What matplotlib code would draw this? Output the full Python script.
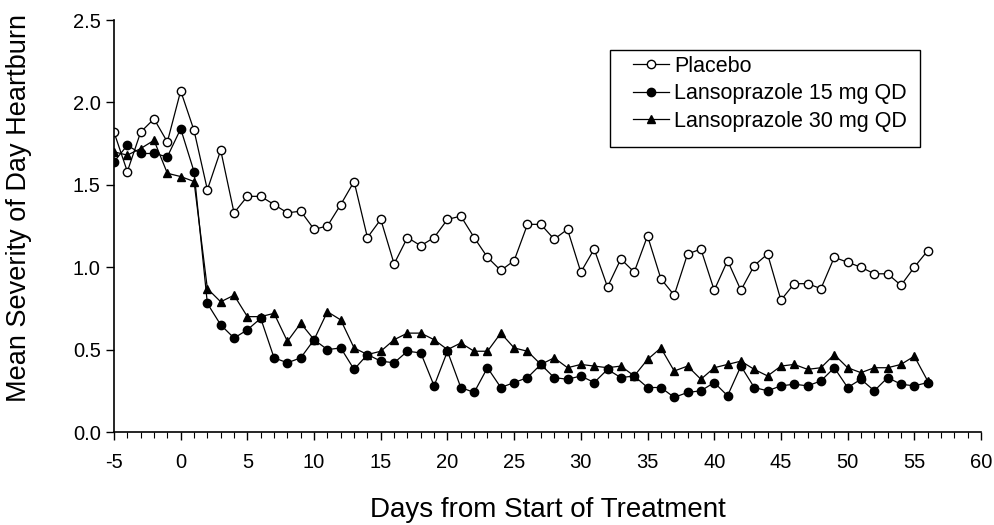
import numpy as np
import matplotlib
matplotlib.use('Agg')
import matplotlib.pyplot as plt
from matplotlib.patches import Rectangle
from matplotlib.ticker import MultipleLocator

plt.rcParams['font.family'] = ['Liberation Sans', 'DejaVu Sans']
plt.rcParams['axes.unicode_minus'] = False

# Days -5 .. 56, one mean per day
days = np.arange(-5, 57)

placebo = [1.82, 1.58, 1.82, 1.90, 1.76, 2.07, 1.83, 1.47, 1.71, 1.33,
           1.43, 1.43, 1.38, 1.33, 1.34, 1.23, 1.25, 1.38, 1.52, 1.18,
           1.29, 1.02, 1.18, 1.13, 1.18, 1.29, 1.31, 1.18, 1.06, 0.98,
           1.04, 1.26, 1.26, 1.17, 1.23, 0.97, 1.11, 0.88, 1.05, 0.97,
           1.19, 0.93, 0.83, 1.08, 1.11, 0.86, 1.04, 0.86, 1.01, 1.08,
           0.80, 0.90, 0.90, 0.87, 1.06, 1.03, 1.00, 0.96, 0.96, 0.89,
           1.00, 1.10]

lanso_15 = [1.64, 1.74, 1.69, 1.69, 1.67, 1.84, 1.58, 0.78, 0.65, 0.57,
            0.62, 0.69, 0.45, 0.42, 0.45, 0.56, 0.50, 0.51, 0.38, 0.47,
            0.43, 0.42, 0.49, 0.48, 0.28, 0.49, 0.27, 0.24, 0.39, 0.27,
            0.30, 0.33, 0.41, 0.33, 0.32, 0.34, 0.30, 0.38, 0.33, 0.34,
            0.27, 0.27, 0.21, 0.24, 0.25, 0.30, 0.22, 0.40, 0.27, 0.25,
            0.28, 0.29, 0.28, 0.31, 0.39, 0.27, 0.32, 0.25, 0.33, 0.29,
            0.28, 0.30]

lanso_30 = [1.70, 1.68, 1.72, 1.77, 1.57, 1.55, 1.52, 0.87, 0.79, 0.83,
            0.70, 0.70, 0.72, 0.55, 0.66, 0.56, 0.73, 0.68, 0.51, 0.47,
            0.49, 0.56, 0.60, 0.60, 0.56, 0.50, 0.54, 0.49, 0.49, 0.60,
            0.51, 0.49, 0.41, 0.45, 0.39, 0.41, 0.40, 0.39, 0.40, 0.34,
            0.44, 0.51, 0.37, 0.40, 0.32, 0.39, 0.41, 0.43, 0.38, 0.34,
            0.40, 0.41, 0.38, 0.39, 0.47, 0.39, 0.36, 0.39, 0.39, 0.41,
            0.46, 0.31]

x_ticks = [-5, 0, 5, 10, 15, 20, 25, 30, 35, 40, 45, 50, 55, 60]
y_ticks = [0.0, 0.5, 1.0, 1.5, 2.0, 2.5]


def visualize_data():
    W, H = 995, 525
    fig = plt.figure(figsize=(W / 100, H / 100), dpi=100)
    ax = fig.add_axes([114 / W, 93 / H, 867 / W, 412 / H])

    line_kw = dict(color='black', linewidth=0.9, markersize=6, markeredgewidth=1.0)
    ax.plot(days, placebo, marker='o', markerfacecolor='white',
            markeredgecolor='black', label='Placebo', **line_kw)
    ax.plot(days, lanso_15, marker='o', markerfacecolor='black',
            label='Lansoprazole 15 mg QD', **line_kw)
    ax.plot(days, lanso_30, marker='^', markerfacecolor='black',
            label='Lansoprazole 30 mg QD', **line_kw)

    ax.set_xlim(-5, 60)
    ax.set_ylim(0, 2.5)
    ax.set_xticks(x_ticks)
    ax.set_yticks(y_ticks)
    ax.set_yticklabels([f'{v:.1f}' for v in y_ticks])
    ax.xaxis.set_minor_locator(MultipleLocator(1))

    ax.spines['top'].set_visible(False)
    ax.spines['right'].set_visible(False)
    ax.spines['left'].set_linewidth(1.2)
    ax.spines['bottom'].set_linewidth(1.2)
    ax.tick_params(axis='both', which='major', direction='out', length=6,
                   width=1.0, labelsize=14.5, colors='black')
    ax.tick_params(axis='x', which='minor', direction='out', length=4, width=0.8)
    ax.tick_params(axis='x', which='major', pad=9)

    ax.set_xlabel('Days from Start of Treatment', fontsize=20, labelpad=18)
    ax.set_ylabel('Mean Severity of Day Heartburn', fontsize=19.5)
    ax.yaxis.set_label_coords((32 - 114) / 867, (432 - 208) / 412)

    # legend: frame drawn separately so the side padding can be wider
    fig.patches.append(Rectangle((610 / W, 1 - 147 / H), 310 / W, 97 / H,
                                 transform=fig.transFigure, fill=False,
                                 edgecolor='black', linewidth=1.0))
    ax.legend(loc='upper left', bbox_to_anchor=(633 / W, 1 - 56 / H),
              bbox_transform=fig.transFigure, fontsize=15.5, frameon=False,
              handlelength=1.65, handletextpad=0.25, borderpad=0,
              labelspacing=0.3, borderaxespad=0)

    fig.savefig('out.png', dpi=100)


def main():
    visualize_data()


if __name__ == '__main__':
    main()
